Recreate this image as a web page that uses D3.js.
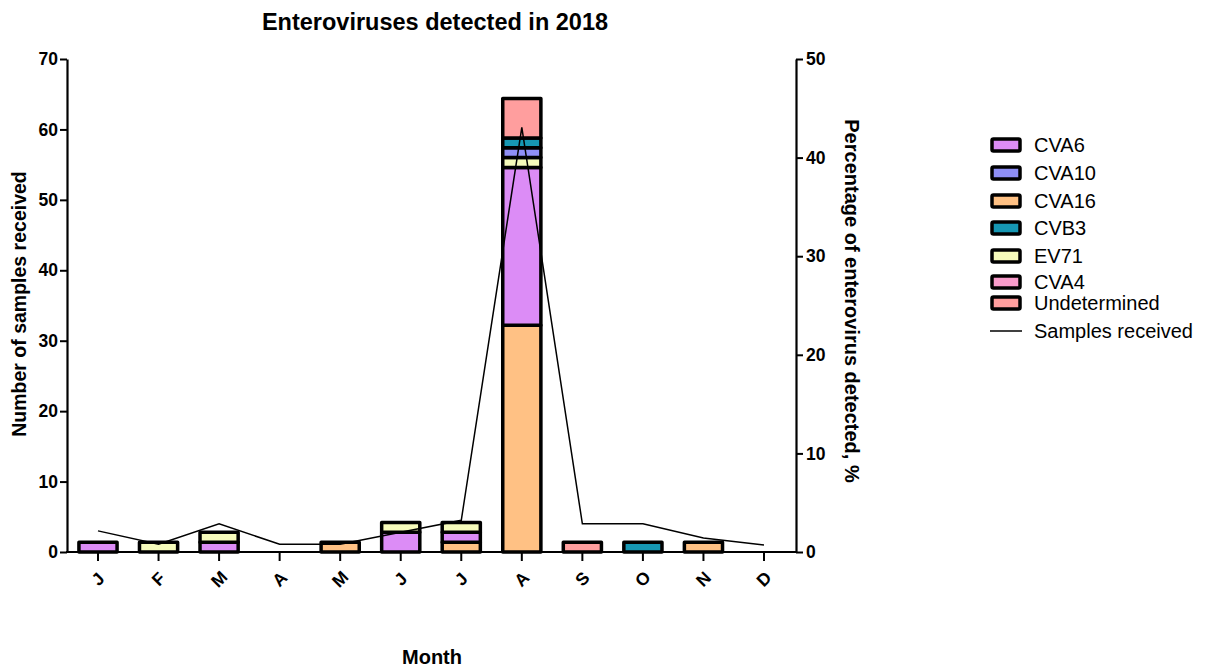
<!DOCTYPE html>
<html>
<head>
<meta charset="utf-8">
<script src="https://cdn.jsdelivr.net/npm/d3@7"></script>
<style>
  html, body { margin: 0; padding: 0; background: #fff; }
  svg { display: block; font-family: Arial, "Liberation Sans", sans-serif; }
</style>
</head>
<body>
<svg id="chart" width="1208" height="668"></svg>
<script>
// ---- Data ----
const months = ["J","F","M","A","M","J","J","A","S","O","N","D"];
const seriesNames = ["CVA6","CVA10","CVA16","CVB3","EV71","CVA4","Undetermined"];
const stackOrder = ["CVA16","CVA6","EV71","CVA10","CVB3","CVA4","Undetermined"];
const CVA6  = [1,0,1,0,0,2,1,16,0,0,0,0];
const CVA10 = [0,0,0,0,0,0,0,1,0,0,0,0];
const CVA16 = [0,0,0,0,1,0,1,23,0,0,1,0];
const CVB3  = [0,0,0,0,0,0,0,1,0,1,0,0];
const EV71  = [0,1,1,0,0,1,1,1,0,0,0,0];
const CVA4  = [0,0,0,0,0,0,0,0,0,0,0,0];
const Undetermined = [0,0,0,0,0,0,0,4,1,0,0,0];
const samplesReceived = [3.0,1.1,4.0,1.1,1.1,2.8,4.5,60.3,4.0,4.0,2.0,1.0];
const leftTicks = [0,10,20,30,40,50,60,70];
const rightTicks = [0,10,20,30,40,50];
const colors = {
  CVA6: "#dc8cf6", CVA10: "#8f8ff6", CVA16: "#ffc184", CVB3: "#1697b3",
  EV71: "#f6fbbb", CVA4: "#f99ccb", Undetermined: "#ff9e9e"
};
const valuesBy = {CVA6, CVA10, CVA16, CVB3, EV71, CVA4, Undetermined};

// ---- Layout ----
const svg = d3.select("#chart");
const L = 67, R = 796, T = 59, B = 552;

const x = d3.scalePoint().domain(d3.range(months.length)).range([98, 764]);
const step = x.step();
const barW = step * 0.63;
const yLeft = d3.scaleLinear().domain([0, 70]).range([B, T]);
const yRight = d3.scaleLinear().domain([0, 50]).range([B, T]);

// ---- Bars (stacked, counts on right axis scale) ----
const table = months.map((m, i) => {
  const o = {i};
  seriesNames.forEach(s => o[s] = valuesBy[s][i]);
  return o;
});
const stacked = d3.stack().keys(stackOrder)(table);
const gBars = svg.append("g");
stacked.forEach(layer => {
  gBars.selectAll(null)
    .data(layer.filter(d => d[1] - d[0] > 0))
    .join("rect")
    .attr("x", d => x(d.data.i) - barW / 2)
    .attr("width", barW)
    .attr("y", d => yRight(d[1]))
    .attr("height", d => yRight(d[0]) - yRight(d[1]))
    .attr("fill", colors[layer.key])
    .attr("stroke", "#000")
    .attr("stroke-width", 3.5)
    .attr("stroke-linejoin", "round");
});

// ---- Line (samples received, left axis) ----
svg.append("path")
  .datum(samplesReceived)
  .attr("fill", "none")
  .attr("stroke", "#000")
  .attr("stroke-width", 1.5)
  .attr("d", d3.line().x((d, i) => x(i)).y(d => yLeft(d)));

// ---- Axes ----
const axisStyle = g => {
  g.selectAll(".domain").attr("stroke", "#000").attr("stroke-width", 2.2);
  g.selectAll(".tick line").attr("stroke", "#000").attr("stroke-width", 2);
  g.selectAll(".tick text").attr("fill", "#000").attr("font-weight", "bold").attr("font-size", 17.5);
};
svg.append("g").attr("transform", `translate(${L},0)`)
  .call(d3.axisLeft(yLeft).tickValues(leftTicks).tickSize(7).tickSizeOuter(0).tickPadding(2))
  .call(axisStyle);
svg.append("g").attr("transform", `translate(${R},0)`)
  .call(d3.axisRight(yRight).tickValues(rightTicks).tickSize(7).tickSizeOuter(0).tickPadding(3))
  .call(axisStyle);

const xAxisG = svg.append("g").attr("transform", `translate(0,${B})`);
xAxisG.append("line").attr("x1", L - 1).attr("x2", R + 1).attr("y1", 0).attr("y2", 0)
  .attr("stroke", "#000").attr("stroke-width", 2.2);
const xt = xAxisG.selectAll("g.xt").data(months).join("g").attr("class", "xt")
  .attr("transform", (d, i) => `translate(${x(i)},0)`);
xt.append("line").attr("y1", 0).attr("y2", 9).attr("stroke", "#000").attr("stroke-width", 2);
xt.append("text")
  .attr("transform", "translate(0,27) rotate(-45)")
  .attr("text-anchor", "middle")
  .attr("dominant-baseline", "central")
  .attr("font-weight", "bold").attr("font-size", 17.5)
  .text(d => d);

// ---- Titles ----
svg.append("text").attr("x", 435).attr("y", 30).attr("text-anchor", "middle")
  .attr("font-weight", "bold").attr("font-size", 23.5).text("Enteroviruses detected in 2018");
svg.append("text").attr("x", 432).attr("y", 664).attr("text-anchor", "middle")
  .attr("font-weight", "bold").attr("font-size", 20).text("Month");
svg.append("text").attr("transform", "translate(26,304) rotate(-90)").attr("text-anchor", "middle")
  .attr("font-weight", "bold").attr("font-size", 19.5).text("Number of samples received");
svg.append("text").attr("transform", "translate(845,301) rotate(90)").attr("text-anchor", "middle")
  .attr("font-weight", "bold").attr("font-size", 20).text("Percentage of enterovirus detected, %");

// ---- Legend ----
const legendY = [145, 173, 201, 228, 256, 282, 303];
const lg = svg.append("g");
seriesNames.forEach((s, k) => {
  lg.append("rect").attr("x", 992).attr("y", legendY[k] - 6).attr("width", 28).attr("height", 12)
    .attr("fill", colors[s]).attr("stroke", "#000").attr("stroke-width", 3.5).attr("rx", 1.5);
  lg.append("text").attr("x", 1034).attr("y", legendY[k]).attr("dominant-baseline", "central")
    .attr("font-size", 20).attr("fill", "#000").text(s);
});
lg.append("line").attr("x1", 990).attr("x2", 1022).attr("y1", 331).attr("y2", 331)
  .attr("stroke", "#000").attr("stroke-width", 1.5);
lg.append("text").attr("x", 1034).attr("y", 331).attr("dominant-baseline", "central")
  .attr("font-size", 20).attr("fill", "#000").text("Samples received");
</script>
</body>
</html>
